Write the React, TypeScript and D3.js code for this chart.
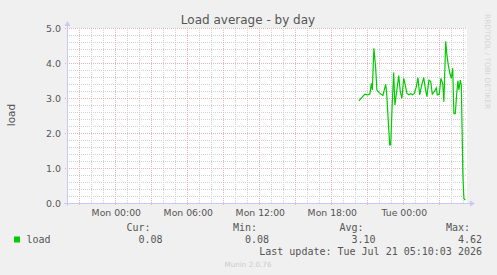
import React from "react";
import * as d3 from "d3";

const times: string[] = [
  "2026-07-20T20:18","2026-07-20T20:32","2026-07-20T20:48","2026-07-20T21:02","2026-07-20T21:13",
  "2026-07-20T21:20","2026-07-20T21:25","2026-07-20T21:33","2026-07-20T21:42","2026-07-20T21:48",
  "2026-07-20T21:58","2026-07-20T22:08","2026-07-20T22:18","2026-07-20T22:32","2026-07-20T22:37",
  "2026-07-20T22:45","2026-07-20T22:52","2026-07-20T22:57","2026-07-20T23:05","2026-07-20T23:12",
  "2026-07-20T23:18","2026-07-20T23:28","2026-07-20T23:37","2026-07-20T23:45","2026-07-20T23:53",
  "2026-07-21T00:02","2026-07-21T00:10","2026-07-21T00:18","2026-07-21T00:28","2026-07-21T00:37",
  "2026-07-21T00:45","2026-07-21T00:55","2026-07-21T01:05","2026-07-21T01:13","2026-07-21T01:22",
  "2026-07-21T01:32","2026-07-21T01:42","2026-07-21T01:50","2026-07-21T01:58","2026-07-21T02:08",
  "2026-07-21T02:17","2026-07-21T02:25","2026-07-21T02:35","2026-07-21T02:45","2026-07-21T02:50",
  "2026-07-21T03:00","2026-07-21T03:08","2026-07-21T03:17","2026-07-21T03:23","2026-07-21T03:32",
  "2026-07-21T03:38","2026-07-21T03:45","2026-07-21T03:53","2026-07-21T04:00","2026-07-21T04:07",
  "2026-07-21T04:13","2026-07-21T04:20","2026-07-21T04:27","2026-07-21T04:33","2026-07-21T04:38",
  "2026-07-21T04:45","2026-07-21T04:50","2026-07-21T04:58","2026-07-21T05:03","2026-07-21T05:10",
];
const loadValues: number[] = [
  2.92, 3.01, 3.11, 3.09, 3.11,
  3.42, 3.23, 4.42, 3.85, 3.23,
  3.16, 3.11, 3.07, 3.39, 3.13,
  2.32, 1.66, 1.66, 2.89, 3.73,
  2.8, 3.23, 3.64, 3.18, 2.99,
  3.56, 3.37, 3.13, 3.09, 3.13,
  3.09, 3.13, 3.32, 3.58, 3.09,
  3.37, 3.58, 3.28, 3.04, 3.51,
  3.47, 3.11, 3.18, 3.29, 3.09,
  3.11, 3.56, 3.42, 2.89, 4.62,
  4.23, 3.94, 3.7, 3.56, 3.85,
  2.55, 2.55, 3.13, 3.49, 3.23,
  3.51, 3.37, 0.8, 0.13, 0.08,
];
const yTicks: number[] = [0, 1, 2, 3, 4, 5];
const xLabelTimes: string[] = ["2026-07-20T00:00","2026-07-20T06:00","2026-07-20T12:00","2026-07-20T18:00","2026-07-21T00:00"];
const xLabels: string[] = ["Mon 00:00", "Mon 06:00", "Mon 12:00", "Mon 18:00", "Tue 00:00"];
const domainTimes: string[] = ["2026-07-19T19:58:30", "2026-07-21T05:18:30"];
const legendHeaders: string[] = ["Cur:", "Min:", "Avg:", "Max:"];
const legendValues: string[] = ["0.08", "0.08", "3.10", "4.62"];
const title = "Load average - by day";
const lastUpdate = "Last update: Tue Jul 21 05:10:03 2026";

const W = 497, H = 275;
const L = 67, R = 467, T = 28, B = 203;

export default function App() {
  const parse = d3.utcParse("%Y-%m-%dT%H:%M");
  const parseS = d3.utcParse("%Y-%m-%dT%H:%M:%S");
  const x = d3.scaleUtc().domain(domainTimes.map((s) => parseS(s) as Date)).range([L, R]);
  const y = d3.scaleLinear().domain([0, 5]).range([B, T]);
  const data = times.map((t, i) => ({ t: parse(t) as Date, v: loadValues[i] }));
  const line = d3.line<{ t: Date; v: number }>().x((d) => x(d.t)).y((d) => y(d.v));

  const hourTicks = d3.utcHour.every(1)!.range(x.domain()[0], x.domain()[1]);
  const minorX = hourTicks.filter((d) => d.getUTCHours() % 3 !== 0);
  const majorX = hourTicks.filter((d) => d.getUTCHours() % 3 === 0);
  const minorY = d3.range(0, 5.001, 0.2).filter((v) => Math.abs(v - Math.round(v)) > 0.01);

  const gray = "#555555";
  const minorCol = "#d2d2d2";
  const majorCol = "#eab4b4";
  const axisCol = "#c8c8f5";
  const headerRight = [150.5, 257, 363.5, 470];
  const valueRight = [162.5, 269, 375.5, 482];

  return (
    <svg width={W} height={H} style={{ position: "absolute", left: 0, top: 0 }} xmlns="http://www.w3.org/2000/svg">
      <rect x={0} y={0} width={W} height={H} fill="#f0f0f0" />
      <rect x={L} y={T} width={R - L} height={B - T} fill="#ffffff" />
      {minorY.map((v, i) => (
        <line key={"my" + i} x1={L} x2={R} y1={Math.round(y(v)) + 0.5} y2={Math.round(y(v)) + 0.5} stroke={minorCol} strokeDasharray="1,1" />
      ))}
      {minorX.map((d, i) => (
        <line key={"mx" + i} x1={Math.round(x(d)) + 0.5} x2={Math.round(x(d)) + 0.5} y1={T} y2={B} stroke={minorCol} strokeDasharray="1,1" />
      ))}
      {yTicks.map((v, i) => (
        <line key={"My" + i} x1={L - 2} x2={R} y1={Math.round(y(v)) + 0.5} y2={Math.round(y(v)) + 0.5} stroke={majorCol} strokeDasharray="1,1" />
      ))}
      {majorX.map((d, i) => (
        <line key={"Mx" + i} x1={Math.round(x(d)) + 0.5} x2={Math.round(x(d)) + 0.5} y1={T} y2={B + 2} stroke={majorCol} strokeDasharray="1,1" />
      ))}
      {/* axes */}
      <line x1={L - 3} x2={R + 3} y1={B + 0.5} y2={B + 0.5} stroke={axisCol} />
      <path d={`M${R + 3},${B - 2.5} L${R + 8},${B + 0.5} L${R + 3},${B + 3.5} Z`} fill={axisCol} />
      <line x1={L + 0.5} x2={L + 0.5} y1={B + 3} y2={T - 3} stroke={axisCol} />
      <path d={`M${L - 2.5},${T - 2} L${L + 0.5},${T - 7} L${L + 3.5},${T - 2} Z`} fill={axisCol} />
      {/* data */}
      <path d={line(data) || ""} fill="none" stroke="#00cc00" strokeWidth={1.2} />
      {/* y labels */}
      {yTicks.map((v, i) => (
        <text key={"yl" + i} x={61} y={y(v) + 3.5} textAnchor="end" fontFamily="DejaVu Sans" fontSize={9.4} fill={gray}>
          {v.toFixed(1)}
        </text>
      ))}
      {xLabelTimes.map((s, i) => (
        <text key={"xl" + i} x={x(parse(s) as Date) + 1} y={215.5} textAnchor="middle" fontFamily="DejaVu Sans" fontSize={9.3} fill={gray}>
          {xLabels[i]}
        </text>
      ))}
      <text x={248} y={23.5} textAnchor="middle" fontFamily="DejaVu Sans" fontSize={12} fill={gray}>
        {title}
      </text>
      <text transform="translate(15,115) rotate(-90)" textAnchor="middle" fontFamily="DejaVu Sans" fontSize={10.5} fill={gray}>
        load
      </text>
      <text transform="translate(485,14) rotate(90)" textAnchor="start" fontFamily="DejaVu Sans" fontSize={7.4} fill="#d4d4d4">
        RRDTOOL / TOBI OETIKER
      </text>
      {/* legend */}
      {legendHeaders.map((h, i) => (
        <text key={"lh" + i} x={headerRight[i]} y={231} textAnchor="end" fontFamily="DejaVu Sans Mono" fontSize={10} fill={gray}>
          {h}
        </text>
      ))}
      <rect x={14} y={236.5} width={6} height={6} fill="#00cc00" />
      <text x={26.5} y={243} fontFamily="DejaVu Sans Mono" fontSize={10} fill={gray}>load</text>
      {legendValues.map((v, i) => (
        <text key={"lv" + i} x={valueRight[i]} y={243} textAnchor="end" fontFamily="DejaVu Sans Mono" fontSize={10} fill={gray}>
          {v}
        </text>
      ))}
      <text x={482} y={255} textAnchor="end" fontFamily="DejaVu Sans Mono" fontSize={10} fill={gray}>
        {lastUpdate}
      </text>
      <text x={248} y={267} textAnchor="middle" fontFamily="DejaVu Sans" fontSize={7.2} fill="#cccccc">
        Munin 2.0.76
      </text>
    </svg>
  );
}
